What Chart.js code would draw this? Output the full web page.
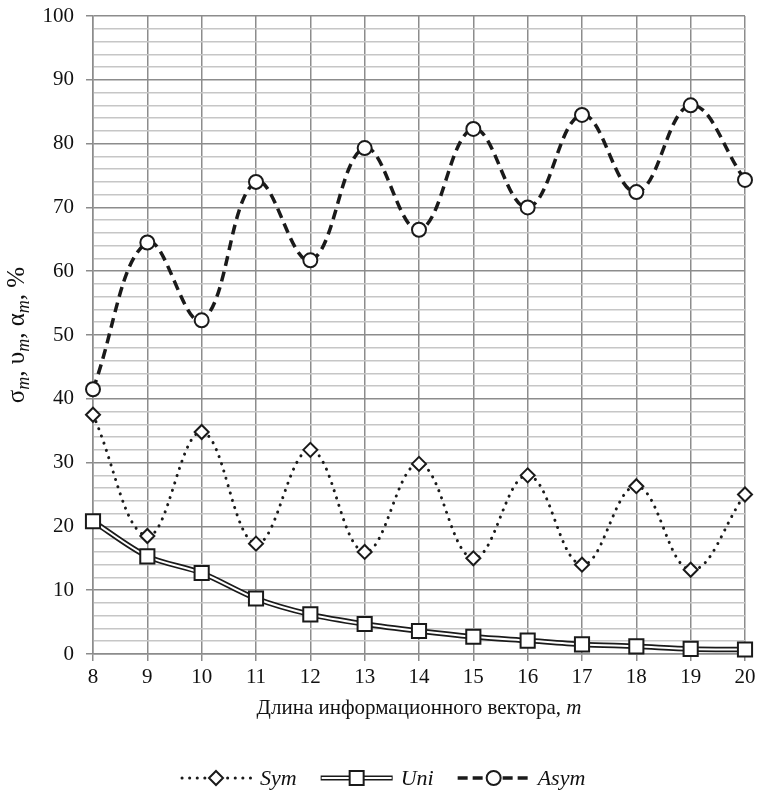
<!DOCTYPE html>
<html>
<head>
<meta charset="utf-8">
<script src="https://cdn.jsdelivr.net/npm/chart.js@4/dist/chart.umd.min.js"></script>
<style>
  html, body { margin: 0; padding: 0; background: #fff; }
  #wrap { width: 757px; height: 797px; }
</style>
</head>
<body>
<div id="wrap"><canvas id="Chart" width="757" height="797"></canvas></div>
<script>
// m = length of the information vector
const m_values = ['8','9','10','11','12','13','14','15','16','17','18','19','20'];
// series, %
const sym  = [37.5, 18.5, 34.8, 17.3, 32.0, 16.0, 29.8, 15.0, 28.0, 14.0, 26.3, 13.2, 25.0];
const uni  = [20.8, 15.3, 12.7, 8.7, 6.2, 4.7, 3.6, 2.7, 2.1, 1.5, 1.2, 0.8, 0.7];
const asym = [41.5, 64.5, 52.3, 74.0, 61.7, 79.3, 66.5, 82.3, 70.0, 84.5, 72.4, 86.0, 74.3];
const y_ticks = [0, 10, 20, 30, 40, 50, 60, 70, 80, 90, 100];

const FONT = "'Liberation Serif', 'Times New Roman', serif";
const INK = '#1a1a1a';
const MAJOR = '#8c8c8c';
const MINOR = '#c6c6c6';

// draws text made of runs, e.g. regular text followed by an italic subscript
function drawRuns(ctx, runs, x, y, align) {
  let total = 0;
  runs.forEach(r => { ctx.font = r.font; total += ctx.measureText(r.t).width; });
  let cx = align === 'center' ? x - total / 2 : x;
  ctx.textAlign = 'left';
  ctx.textBaseline = 'alphabetic';
  runs.forEach(r => {
    ctx.font = r.font;
    ctx.fillText(r.t, cx, y + (r.dy || 0));
    cx += ctx.measureText(r.t).width;
  });
}

function marker(ctx, type, x, y) {
  ctx.save();
  ctx.setLineDash([]);
  ctx.fillStyle = '#fff';
  ctx.strokeStyle = INK;
  ctx.lineWidth = 2;
  ctx.beginPath();
  if (type === 'diamond') {
    ctx.moveTo(x, y - 7); ctx.lineTo(x + 7, y); ctx.lineTo(x, y + 7); ctx.lineTo(x - 7, y); ctx.closePath();
  } else if (type === 'square') {
    ctx.rect(x - 7, y - 7, 14, 14);
  } else {
    ctx.arc(x, y, 7, 0, Math.PI * 2);
  }
  ctx.fill();
  ctx.stroke();
  ctx.restore();
}

const textPlugin = {
  id: 'texts',
  afterDraw(chart) {
    const ctx = chart.ctx;
    const area = chart.chartArea;
    const reg = '21px ' + FONT;
    const ita = 'italic 21px ' + FONT;
    ctx.save();
    ctx.fillStyle = '#111';

    // y axis title
    const yreg = '25px ' + FONT;
    const ysub = 'italic 18px ' + FONT;
    ctx.save();
    ctx.translate(24, (area.top + area.bottom) / 2);
    ctx.rotate(-Math.PI / 2);
    drawRuns(ctx, [
      {t: 'σ', font: yreg}, {t: 'm', font: ysub, dy: 5},
      {t: ', υ', font: yreg}, {t: 'm', font: ysub, dy: 5},
      {t: ', α', font: yreg}, {t: 'm', font: ysub, dy: 5},
      {t: ', %', font: yreg}
    ], 0, 0, 'center');
    ctx.restore();

    // x axis title
    drawRuns(ctx, [
      {t: 'Длина информационного вектора, ', font: reg},
      {t: 'm', font: ita}
    ], (area.left + area.right) / 2, 714, 'center');

    // legend
    const items = [
      {label: 'Sym', mk: 'diamond', kind: 'dot'},
      {label: 'Uni', mk: 'square', kind: 'double'},
      {label: 'Asym', mk: 'circle', kind: 'dash'}
    ];
    const ly = 778;
    const L = 72;
    let x = 180;
    items.forEach(it => {
      ctx.save();
      ctx.lineCap = 'butt';
      if (it.kind === 'dot') {
        ctx.strokeStyle = INK; ctx.lineWidth = 3; ctx.lineCap = 'round';
        ctx.setLineDash([0.1, 7.5]);
        ctx.beginPath(); ctx.moveTo(x + 2, ly); ctx.lineTo(x + L, ly); ctx.stroke();
      } else if (it.kind === 'double') {
        ctx.strokeStyle = INK; ctx.lineWidth = 5;
        ctx.beginPath(); ctx.moveTo(x, ly); ctx.lineTo(x + L, ly); ctx.stroke();
        ctx.strokeStyle = '#fff'; ctx.lineWidth = 2;
        ctx.beginPath(); ctx.moveTo(x + 1, ly); ctx.lineTo(x + L - 1, ly); ctx.stroke();
      } else {
        ctx.strokeStyle = INK; ctx.lineWidth = 3.5;
        ctx.setLineDash([10, 5]);
        ctx.beginPath(); ctx.moveTo(x, ly); ctx.lineTo(x + L, ly); ctx.stroke();
      }
      ctx.restore();
      marker(ctx, it.mk, x + L / 2, ly);
      ctx.font = 'italic 22px ' + FONT;
      ctx.fillStyle = '#111';
      ctx.textAlign = 'left';
      ctx.textBaseline = 'middle';
      ctx.fillText(it.label, x + L + 8, ly + 1);
      x += L + 8 + ctx.measureText(it.label).width + 24;
    });
    ctx.restore();
  }
};

const ctx = document.getElementById('Chart');
const myChart = new Chart(ctx, {
  type: 'line',
  data: {
    labels: m_values,
    datasets: [{
      label: 'Asym',
      data: asym,
      borderColor: INK,
      borderWidth: 3.5,
      borderDash: [10, 6],
      tension: 0.4,
      pointStyle: 'circle',
      pointRadius: 7,
      pointBorderWidth: 2,
      pointBackgroundColor: '#fff',
      pointBorderColor: INK,
      clip: false,
      order: 1
    }, {
      label: 'Sym',
      data: sym,
      borderColor: INK,
      borderWidth: 3,
      borderDash: [0.1, 7.5],
      borderCapStyle: 'round',
      tension: 0.4,
      pointStyle: 'rectRot',
      pointRadius: 7,
      pointBorderWidth: 2,
      pointBackgroundColor: '#fff',
      pointBorderColor: INK,
      clip: false,
      order: 2
    }, {
      label: 'Uni',
      data: uni,
      borderColor: '#fff',
      borderWidth: 2,
      tension: 0.3,
      pointStyle: 'rect',
      pointRadius: 10,
      pointBorderWidth: 2,
      pointBackgroundColor: '#fff',
      pointBorderColor: INK,
      clip: false,
      order: 3
    }, {
      label: 'Uni-edge',
      data: uni,
      borderColor: INK,
      borderWidth: 5.5,
      tension: 0.3,
      pointRadius: 0,
      clip: false,
      order: 4
    }]
  },
  options: {
    responsive: false,
    animation: false,
    layout: { padding: { top: 16, right: 11, left: 0, bottom: 0 } },
    plugins: {
      legend: { display: false },
      tooltip: { enabled: false }
    },
    scales: {
      x: {
        offset: false,
        afterFit(scale) {
          scale.height = 143;
          scale.paddingLeft = 0;
          scale.paddingRight = 0;
        },
        grid: { color: MAJOR, lineWidth: 1.5, tickLength: 7, offset: false },
        border: { color: MAJOR, width: 1.5 },
        ticks: {
          color: '#111',
          font: { family: FONT, size: 21 },
          padding: 4,
          maxRotation: 0,
          autoSkip: false
        }
      },
      y: {
        min: 0,
        max: 100,
        afterFit(scale) {
          scale.width = 93;
          scale.paddingTop = 0;
          scale.paddingBottom = 0;
        },
        afterBuildTicks(scale) {
          // minor lines every 2 units, labels only on the major ones
          const t = [];
          for (let v = 0; v <= 100; v += 2) t.push({ value: v });
          scale.ticks = t;
        },
        grid: {
          lineWidth: 1.5,
          tickLength: 7,
          color: c => (c.tick && c.tick.value % 10 === 0) ? MAJOR : MINOR,
          tickColor: c => (c.tick && c.tick.value % 10 === 0) ? MAJOR : 'rgba(0,0,0,0)'
        },
        border: { color: MAJOR, width: 1.5 },
        ticks: {
          color: '#111',
          font: { family: FONT, size: 21 },
          padding: 12,
          autoSkip: false,
          callback: v => y_ticks.includes(v) ? String(v) : ''
        }
      }
    }
  },
  plugins: [textPlugin]
});
</script>
</body>
</html>
